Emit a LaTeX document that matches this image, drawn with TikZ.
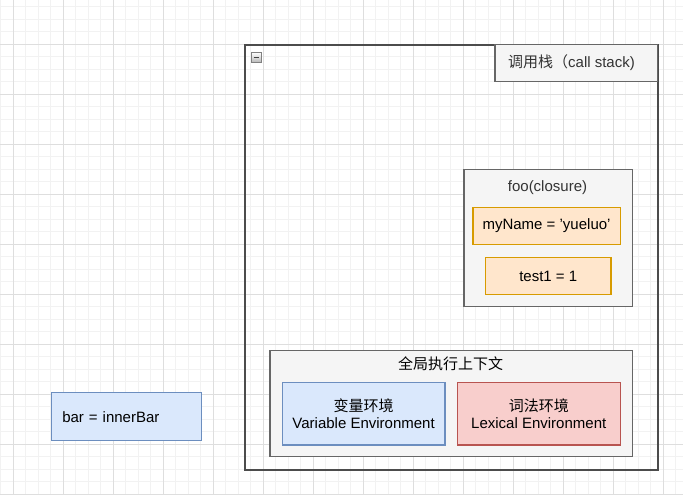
\documentclass[tikz,border=0pt]{standalone}
\usepackage{fontspec}
\setmainfont{Liberation Sans}
\newfontfamily\cjk{Noto Sans CJK SC}
\usepackage{tikz}
\definecolor{gridminor}{HTML}{F2F2F2}
\definecolor{gridmajor}{HTML}{DEDEDE}
\definecolor{grayfill}{HTML}{F5F5F5}
\definecolor{graydraw}{HTML}{666666}
\definecolor{grayfont}{HTML}{333333}
\definecolor{orangefill}{HTML}{FFE6CC}
\definecolor{orangedraw}{HTML}{D79B00}
\definecolor{bluefill}{HTML}{DAE8FC}
\definecolor{bluedraw}{HTML}{6C8EBF}
\definecolor{redfill}{HTML}{F8CECC}
\definecolor{reddraw}{HTML}{B85450}
\tikzset{
  cell/.style = {rectangle, anchor=north west, inner sep=0pt, align=center,
    font=\fontsize{11.25}{13.3}\selectfont},
  frame/.style = {cell, draw=black!70, line width=1.5pt},% pile d'appel
  graybox/.style = {cell, draw=graydraw, fill=grayfill, text=grayfont,
    line width=0.9pt},% contexte
  orangebox/.style = {cell, draw=orangedraw, fill=orangefill, line width=0.9pt},% variable
  bluebox/.style = {cell, draw=bluedraw, fill=bluefill, line width=0.9pt},% environnement
  redbox/.style = {cell, draw=reddraw, fill=redfill, line width=0.9pt},% environnement
  caption/.style = {inner sep=0pt, font=\fontsize{11.25}{13.3}\selectfont}
}

\begin{document}
\begin{tikzpicture}[x=0.75pt,y=-0.75pt]
\useasboundingbox (0,0) rectangle (683,495);
% grille
\foreach \x in {0.8,13.3,...,683} \draw[gridminor, line width=0.75pt] (\x,0) -- (\x,495);
\foreach \y in {6.8,19.3,...,495} \draw[gridminor, line width=0.75pt] (0,\y) -- (683,\y);
\foreach \x in {13.3,63.3,...,683} \draw[gridmajor, line width=0.75pt] (\x,0) -- (\x,495);
\foreach \y in {44.3,94.3,...,495} \draw[gridmajor, line width=0.75pt] (0,\y) -- (683,\y);

\node [frame, minimum width=309.5pt, minimum height=318.3pt] (stack) at (244,44.3) {};
\node [graybox, minimum width=121.8pt, minimum height=27.5pt] (stackT) at (494.3,44.3) {};
\node [caption, text=grayfont] (stackL) at (571.5,62.7) {{\cjk 调用栈（}call stack)};
\node [cell, draw=gray, top color=white, bottom color=gray!55, line width=0.6pt,
  minimum size=7.5pt,
  path picture={\draw[black!75, line width=1pt]
    ([xshift=1.8pt]path picture bounding box.west) --
    ([xshift=-1.8pt]path picture bounding box.east);}] (fold) at (250.8,51.8) {};

\node [graybox, minimum width=126.3pt, minimum height=102.5pt] (foo) at (463.3,169.3) {};
\node [caption, text=grayfont] (fooT) at (547.5,187.5) {foo(closure)};
\node [orangebox, minimum width=110.5pt, minimum height=28pt] (myName) at (472.3,206.7)
  {myName = 'yueluo'};
\node [orangebox, minimum width=94pt, minimum height=28.2pt] (test1) at (485,256.7)
  {test1 = 1};

\node [graybox, text=black, minimum width=272pt, minimum height=79.3pt] (global) at (269.3,350.3) {};
\node [caption] (globalT) at (450.7,363.3) {\cjk 全局执行上下文};
\node [bluebox, minimum width=122pt, minimum height=47pt] (varEnv) at (281.7,381.7)
  {{\cjk 变量环境}\\Variable Environment};
\node [redbox, minimum width=122.2pt, minimum height=47pt] (lexEnv) at (456.7,381.7)
  {{\cjk 词法环境}\\Lexical Environment};

\node [bluebox, align=left, inner xsep=8.25pt, text width=96pt, minimum height=36pt]
  (bar) at (50.7,392.3) {bar = innerBar};
\end{tikzpicture}
\end{document}
